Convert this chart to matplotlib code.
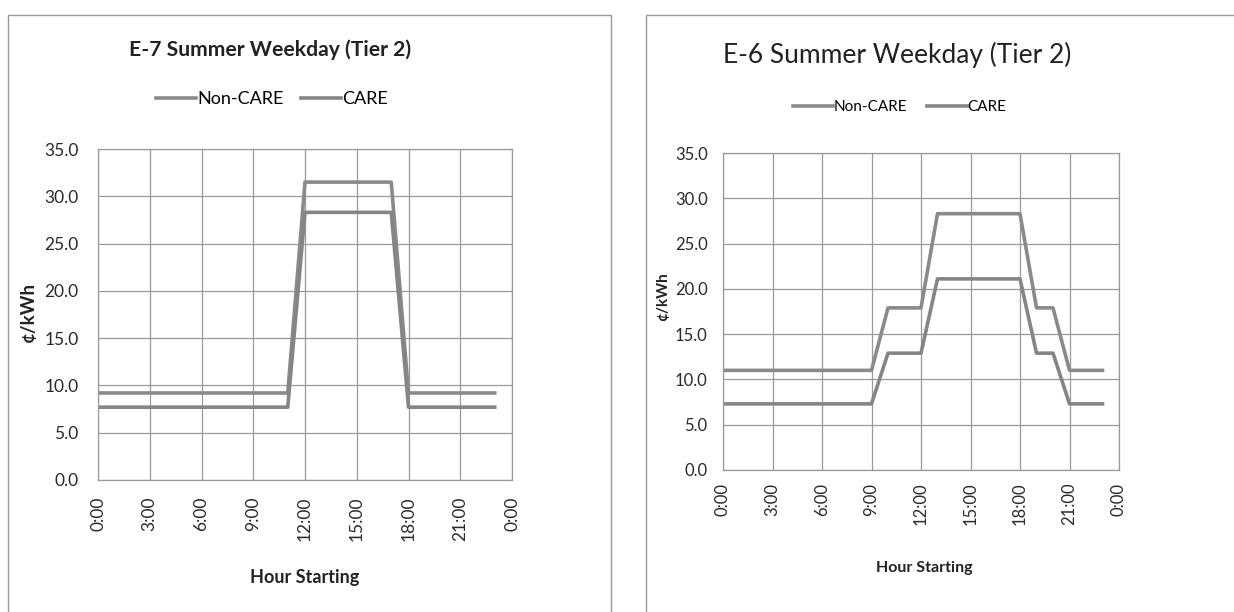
import matplotlib.pyplot as plt
from matplotlib.patches import Rectangle

W, H = 1234, 612

hours = list(range(24))
tick_pos = [0, 3, 6, 9, 12, 15, 18, 21, 24]
tick_labels = ['0:00', '3:00', '6:00', '9:00', '12:00', '15:00', '18:00', '21:00', '0:00']

# E-7 summer weekday, tier 2 (cents/kWh)
e7_noncare = [9.2] * 12 + [31.5] * 6 + [9.2] * 6
e7_care = [7.7] * 12 + [28.3] * 6 + [7.7] * 6

# E-6 summer weekday, tier 2
e6_noncare = [11.0] * 10 + [17.9] * 3 + [28.3] * 6 + [17.9] * 2 + [11.0] * 3
e6_care = [7.3] * 10 + [12.9] * 3 + [21.1] * 6 + [12.9] * 2 + [7.3] * 3

plt.rcParams['font.family'] = ['Lato', 'DejaVu Sans']

fig = plt.figure(figsize=(W / 100, H / 100), dpi=100)


def px_box(x0, y0, x1, y1):
    return [x0 / W, 1 - y1 / H, (x1 - x0) / W, (y1 - y0) / H]


def fx(x):
    return x / W


def fy(y):
    return 1 - y / H


# panel frames
fig.add_artist(Rectangle((fx(8), fy(640)), fx(611) - fx(8), fy(15) - fy(640),
                         transform=fig.transFigure, fill=False, ec='#9a9a9a', lw=1))
fig.add_artist(Rectangle((fx(646), fy(640)), fx(1260) - fx(646), fy(15) - fy(640),
                         transform=fig.transFigure, fill=False, ec='#9a9a9a', lw=1))

line_col = '#8a8a8a'


def draw_panel(box, noncare, care, xpad, ypad, fs):
    ax = fig.add_axes(box)
    l1, = ax.plot(hours, noncare, color=line_col, lw=2.6, label='Non-CARE')
    l2, = ax.plot(hours, care, color='#858585', lw=2.6, label='CARE')
    ax.set_xlim(0, 24)
    ax.set_ylim(0, 35)
    ax.set_xticks(tick_pos)
    ax.set_xticklabels(tick_labels, rotation=90)
    ax.set_yticks(range(0, 36, 5))
    ax.set_yticklabels(['%.1f' % v for v in range(0, 36, 5)])
    ax.grid(True, color='#9a9a9a', lw=0.9)
    ax.set_axisbelow(True)
    for s in ax.spines.values():
        s.set_color('#9a9a9a')
        s.set_linewidth(0.9)
    ax.tick_params(axis='x', length=0, pad=xpad, labelsize=fs, colors='#2a2a2a')
    ax.tick_params(axis='y', length=0, pad=ypad, labelsize=fs, colors='#2a2a2a')
    return ax, l1, l2


ax1, a1, b1 = draw_panel(px_box(98, 149, 512, 480), e7_noncare, e7_care, 12, 14, 12.5)
ax2, a2, b2 = draw_panel(px_box(723, 153, 1119, 470), e6_noncare, e6_care, 9, 11, 12)

# titles
fig.text(fx(270), fy(50), 'E-7 Summer Weekday (Tier 2)', ha='center', va='center',
         fontsize=15.2, fontweight='bold', color='#222222')
fig.text(fx(897), fy(55), 'E-6 Summer Weekday (Tier 2)', ha='center', va='center',
         fontsize=19, color='#222222')

# legends
fig.legend([a1, b1], ['Non-CARE', 'CARE'], loc='center', bbox_to_anchor=(fx(272), fy(99)),
           ncol=2, frameon=False, fontsize=13, handlelength=2.2, handletextpad=0.05,
           columnspacing=1.0)
fig.legend([a2, b2], ['Non-CARE', 'CARE'], loc='center', bbox_to_anchor=(fx(900), fy(107)),
           ncol=2, frameon=False, fontsize=11, handlelength=2.6, handletextpad=0.05,
           columnspacing=1.3)

# axis labels
fig.text(fx(28), fy(312), '¢/kWh', rotation=90, ha='center', va='center',
         fontsize=13.5, fontweight='bold', color='#222222')
fig.text(fx(663), fy(297), '¢/kWh', rotation=90, ha='center', va='center',
         fontsize=11, fontweight='bold', color='#222222')
fig.text(fx(305), fy(577), 'Hour Starting', ha='center', va='center',
         fontsize=13, fontweight='bold', color='#222222')
fig.text(fx(924), fy(568), 'Hour Starting', ha='center', va='center',
         fontsize=11.5, fontweight='bold', color='#222222')

fig.savefig('out.png', dpi=100)
